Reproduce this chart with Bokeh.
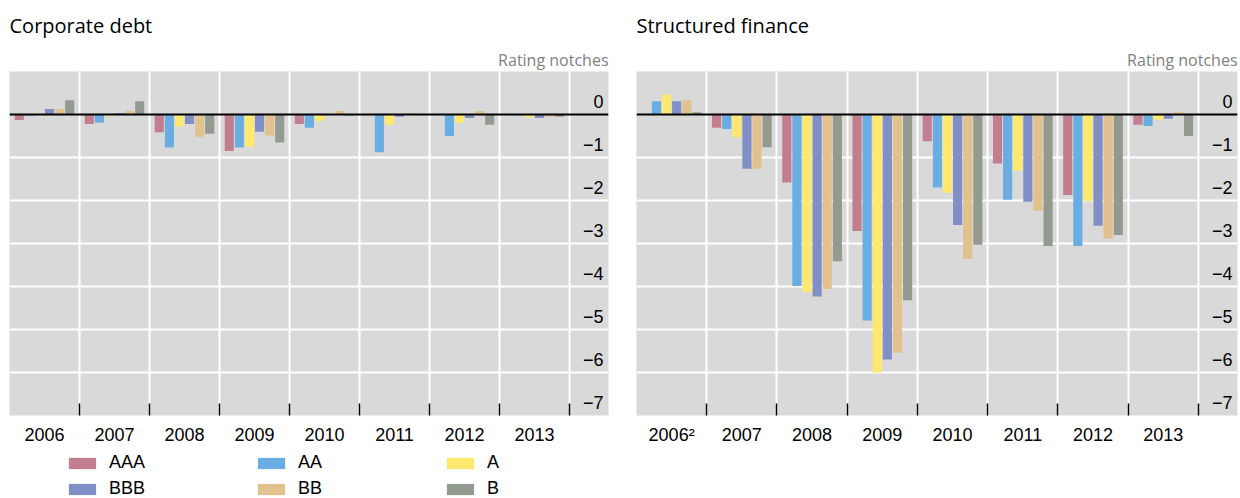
from bokeh.plotting import figure
from bokeh.models import (ColumnDataSource, FixedTicker, Span, Title, Legend,
                          LegendItem, Range1d, Grid)
from bokeh.transform import dodge
from bokeh.layouts import row, column
from bokeh.embed import file_html
from bokeh.resources import INLINE
from bokeh.core.properties import value

# ---------------- data ----------------
years_corp = ["2006", "2007", "2008", "2009", "2010", "2011", "2012", "2013"]
years_sf = ["2006²", "2007", "2008", "2009", "2010", "2011", "2012", "2013"]
ratings = ["AAA", "AA", "A", "BBB", "BB", "B"]
colors = ["#c27e8e", "#6aade2", "#fee96e", "#808fc6", "#e1c28f", "#939a90"]

corp_aaa = [-0.13, -0.22, -0.41, -0.85, -0.22, 0.0, 0.0, 0.0]
corp_aa = [-0.03, -0.19, -0.77, -0.77, -0.31, -0.88, -0.50, -0.02]
corp_a = [-0.02, -0.04, -0.28, -0.75, -0.15, -0.24, -0.19, -0.07]
corp_bbb = [0.13, 0.03, -0.22, -0.40, 0.0, -0.05, -0.08, -0.08]
corp_bb = [0.13, 0.08, -0.52, -0.49, 0.08, 0.03, 0.08, -0.05]
corp_b = [0.33, 0.31, -0.45, -0.65, -0.03, 0.0, -0.24, -0.05]

sf_aaa = [0.0, -0.31, -1.58, -2.71, -0.62, -1.14, -1.87, -0.24]
sf_aa = [0.31, -0.34, -3.99, -4.79, -1.70, -1.98, -3.06, -0.27]
sf_a = [0.46, -0.53, -4.13, -6.00, -1.82, -1.30, -2.01, -0.12]
sf_bbb = [0.31, -1.26, -4.23, -5.70, -2.57, -2.03, -2.59, -0.10]
sf_bb = [0.34, -1.26, -4.06, -5.54, -3.36, -2.24, -2.89, 0.05]
sf_b = [0.05, -0.76, -3.41, -4.32, -3.03, -3.06, -2.80, -0.50]

y_ticks = [0, -1, -2, -3, -4, -5, -6, -7]
y_tick_labels = ["0", "−1", "−2", "−3", "−4", "−5", "−6", "−7"]

TITLE_FONT = "Open Sans"
NUM_FONT = "Liberation Sans"
X_END = 8.557
FRAME_H = 344
TOP = 71
LEG_H = 47
TOTAL_H = 498


def make_chart(title, year_labels, series, border_left, border_right, frame_w, bottom, standoff):
    n = len(year_labels)
    centers = [i + 0.5 for i in range(n)]
    bounds = [i + 1 for i in range(n)]
    data = dict(x=centers)
    for r, vals in zip(ratings, series):
        data[r] = vals
    src = ColumnDataSource(data)

    p = figure(width=border_left + frame_w + border_right, height=TOP + FRAME_H + bottom,
               x_range=Range1d(0, X_END), y_range=Range1d(-7, 1),
               output_backend="svg", toolbar_location=None,
               y_axis_location=None,
               min_border_left=border_left, min_border_right=border_right,
               min_border_top=TOP, min_border_bottom=bottom,
               background_fill_color="#d9d9d9", border_fill_color="white",
               outline_line_color="#ececec", outline_line_width=1)

    # titles
    p.title.text = title
    p.title.align = "left"
    p.title.text_color = "black"
    p.title.text_font = TITLE_FONT
    p.title.text_font_size = "20px"
    p.title.text_font_style = "normal"
    p.title.standoff = 14
    p.add_layout(Title(text="Rating notches", align="right", text_font=TITLE_FONT,
                       text_font_size="16px", text_font_style="normal",
                       text_color="#808080", standoff=2), "above")

    # grids
    p.xgrid.ticker = FixedTicker(ticks=bounds)
    p.xgrid.grid_line_color = "white"
    p.xgrid.grid_line_width = 2
    ygrid = Grid(dimension=1, ticker=FixedTicker(ticks=y_ticks[1:]),
                 grid_line_color="white", grid_line_width=2)
    p.add_layout(ygrid)

    # x axis
    ax = p.xaxis[0]
    ax.ticker = FixedTicker(ticks=centers, minor_ticks=bounds)
    ax.major_label_overrides = {c: lab for c, lab in zip(centers, year_labels)}
    ax.major_tick_in = 0
    ax.major_tick_out = 0
    ax.minor_tick_in = 12
    ax.minor_tick_out = 0
    ax.minor_tick_line_color = "black"
    ax.minor_tick_line_width = 1.5
    ax.axis_line_color = None
    ax.major_label_standoff = standoff
    ax.major_label_text_font = NUM_FONT
    ax.major_label_text_font_size = "18px"
    ax.major_label_text_color = "black"

    # bars
    slot = 0.144
    for k, (r, c) in enumerate(zip(ratings, colors)):
        p.vbar(x=dodge("x", (k - 2.5) * slot, range=p.x_range), top=r, bottom=0,
               width=0.13, source=src, fill_color=c, line_color=None)

    # zero line
    p.add_layout(Span(location=0, dimension="width", line_color="black", line_width=2))

    # y labels inside plot at right
    p.text(x=[X_END] * len(y_ticks), y=y_ticks, text=y_tick_labels,
           x_offset=-5, y_offset=-13, text_align="right", text_baseline="alphabetic",
           text_font=value(NUM_FONT), text_font_size="18px", text_color="black")
    return p


def make_legend(width):
    lf = figure(width=width, height=LEG_H, x_range=Range1d(0, 1), y_range=Range1d(0, 1),
                output_backend="svg", toolbar_location=None,
                x_axis_location=None, y_axis_location=None,
                min_border_left=0, min_border_right=0, min_border_top=0, min_border_bottom=0,
                background_fill_color="white", border_fill_color="white",
                outline_line_color=None)
    lf.grid.visible = False
    items = []
    for r, c in zip(ratings, colors):
        # zero-size placeholder bar: only its style is used by the legend key
        rr = lf.vbar(x=[0], top=[0], bottom=[0], width=0, fill_color=c, line_color=None)
        items.append(LegendItem(label=r, renderers=[rr]))
    leg = Legend(items=items, orientation="horizontal", ncols=3,
                 location=(56, -1), glyph_width=34, glyph_height=14,
                 label_standoff=10, label_width=140, spacing=5,
                 label_text_font=NUM_FONT, label_text_font_size="18px",
                 label_text_color="black", padding=0, margin=0,
                 background_fill_alpha=0, border_line_color=None,
                 label_height=16)
    lf.add_layout(leg, "center")
    return lf


p1 = make_chart("Corporate debt", years_corp,
                [corp_aaa, corp_aa, corp_a, corp_bbb, corp_bb, corp_b],
                9, 20, 599, TOTAL_H - TOP - FRAME_H - LEG_H, 12)
pleg = make_legend(9 + 599 + 20)
p2 = make_chart("Structured finance", years_sf,
                [sf_aaa, sf_aa, sf_a, sf_bbb, sf_bb, sf_b],
                8, 3, 601, TOTAL_H - TOP - FRAME_H, 9)

layout = row(column(p1, pleg), p2)
open("out.html", "w").write(file_html(layout, INLINE))
